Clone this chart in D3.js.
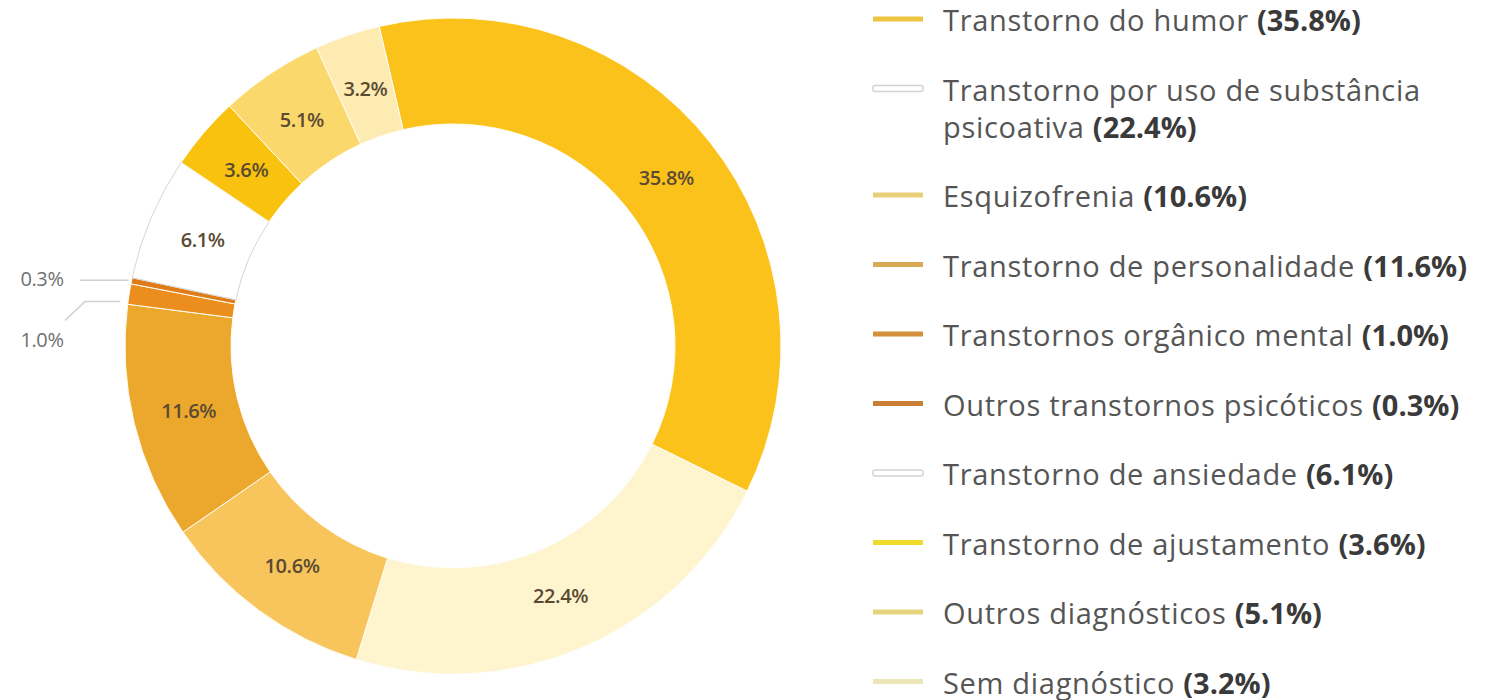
<!DOCTYPE html>
<html>
<head>
<meta charset="utf-8">
<script src="https://cdn.jsdelivr.net/npm/d3@7"></script>
<style>
  html, body { margin: 0; padding: 0; background: #fff; }
  svg { display: block; }
</style>
</head>
<body>
<svg id="chart"></svg>
<script>
const categories = [
  "Transtorno do humor",
  "Transtorno por uso de substância psicoativa",
  "Esquizofrenia",
  "Transtorno de personalidade",
  "Transtornos orgânico mental",
  "Outros transtornos psicóticos",
  "Transtorno de ansiedade",
  "Transtorno de ajustamento",
  "Outros diagnósticos",
  "Sem diagnóstico"
];
const values = [35.8, 22.4, 10.6, 11.6, 1.0, 0.3, 6.1, 3.6, 5.1, 3.2];
const sliceColors = ["#fcc21c", "#fef5cf", "#f7c55c", "#eca82c", "#ec8e1e", "#de7c1a",
                     "#ffffff", "#f9c20e", "#fbd86c", "#fdebb2"];
const legendColors = ["#ecc640", "#ffffff", "#e9cf78", "#d8aa55", "#d4903a", "#c98036",
                      "#ffffff", "#f0da2a", "#e5d47e", "#ebe6b6"];
// slices with their labels outside the ring
const outsideLabels = ["Transtornos orgânico mental", "Outros transtornos psicóticos"];

const W = 1486, H = 700;
const svg = d3.select("#chart").attr("width", W).attr("height", H);

const cx = 453, cy = 346;
const rOuter = 328, rInner = 222;
const start = -13 * Math.PI / 180;

const pie = d3.pie().sort(null).value(d => d)
    .startAngle(start).endAngle(start + 2 * Math.PI);
const arcs = pie(values);

const arc = d3.arc().innerRadius(rInner).outerRadius(rOuter);
const labelArc = d3.arc().innerRadius(rInner + 50).outerRadius(rInner + 50);
const edgeArc = d3.arc().innerRadius(rOuter + 3).outerRadius(rOuter + 3);

const g = svg.append("g").attr("transform", `translate(${cx},${cy})`);

g.selectAll(".slice")
  .data(arcs).enter().append("path")
  .attr("class", "slice")
  .attr("d", arc)
  .attr("fill", (d, i) => sliceColors[i])
  .attr("stroke", (d, i) => sliceColors[i] === "#ffffff" ? "#d6d6d6" : "#fffdf4")
  .attr("stroke-width", 1);

// labels inside the ring
g.selectAll(".vlabel")
  .data(arcs.filter((d, i) => !outsideLabels.includes(categories[i])))
  .enter().append("text")
  .attr("class", "vlabel")
  .attr("transform", d => `translate(${labelArc.centroid(d)})`)
  .attr("text-anchor", "middle")
  .attr("dominant-baseline", "central")
  .attr("font-family", "'Open Sans', sans-serif")
  .attr("font-size", 20)
  .attr("font-weight", 600)
  .attr("letter-spacing", -0.4)
  .attr("fill", "#5a4a32")
  .text(d => d.data.toFixed(1) + "%");

// small slices: leader lines to the left
const textX = 42 - cx;
outsideLabels.forEach((name, k) => {
  const d = arcs[categories.indexOf(name)];
  const [px, py] = edgeArc.centroid(d);
  let pts, ty;
  if (k === 1) {
    pts = [[px, py], [80 - cx, py]];
    ty = py - 2;
  } else {
    pts = [[px - 6, py + 8], [85 - cx, py + 8], [65 - cx, py + 27]];
    ty = py + 46;
  }
  g.append("polyline")
    .attr("points", pts.map(p => p.join(",")).join(" "))
    .attr("fill", "none")
    .attr("stroke", "#cfcfcf")
    .attr("stroke-width", 1.5);
  g.append("text")
    .attr("x", textX).attr("y", ty)
    .attr("text-anchor", "middle")
    .attr("dominant-baseline", "central")
    .attr("font-family", "'Open Sans', sans-serif")
    .attr("font-size", 20)
    .attr("letter-spacing", -0.4)
    .attr("fill", "#6f6f6f")
    .text(d.data.toFixed(1) + "%");
});

// legend
const legX = 873, legTextX = 943, legMaxW = 540;
const fontSize = 29, spacing = 0.7;
const rowStep = 69.5, lineH = 37;
const legend = svg.append("g").attr("class", "legend");
let y = 19;
categories.forEach((name, i) => {
  const row = legend.append("g");
  const t = row.append("text")
    .attr("x", legTextX).attr("y", y)
    .attr("dominant-baseline", "central")
    .attr("font-family", "'Open Sans', sans-serif")
    .attr("font-size", fontSize)
    .attr("letter-spacing", spacing)
    .attr("fill", "#555");
  // wrap by words, percentage stays bold at the end
  const words = name.split(" ");
  const pct = ` (${values[i].toFixed(1)}%)`;
  let lines = [[]];
  const probe = svg.append("text")
    .attr("font-family", "'Open Sans', sans-serif")
    .attr("font-size", fontSize).attr("letter-spacing", spacing);
  words.forEach((w, j) => {
    const cur = lines[lines.length - 1];
    const test = cur.concat([w]).join(" ") + (j === words.length - 1 ? pct : "");
    probe.text(test);
    if (cur.length && probe.node().getComputedTextLength() > legMaxW) lines.push([w]);
    else cur.push(w);
  });
  probe.remove();
  lines.forEach((ws, li) => {
    t.append("tspan").attr("x", legTextX).attr("dy", li === 0 ? 0 : lineH)
      .text(ws.join(" ") + (li === lines.length - 1 ? " " : ""));
    if (li === lines.length - 1) {
      t.append("tspan").attr("font-weight", 700).attr("fill", "#3a3a3a")
        .attr("letter-spacing", 0)
        .text(`(${values[i].toFixed(1)}%)`);
    }
  });
  const c = legendColors[i];
  if (c === "#ffffff") {
    row.append("rect")
      .attr("x", legX).attr("y", y - 3).attr("width", 50).attr("height", 6)
      .attr("rx", 2)
      .attr("fill", "#fff").attr("stroke", "#cfd3d6").attr("stroke-width", 1.5);
  } else {
    row.append("line")
      .attr("x1", legX).attr("x2", legX + 50).attr("y1", y).attr("y2", y)
      .attr("stroke", c).attr("stroke-width", 5);
  }
  y += rowStep + (lines.length - 1) * lineH;
});
</script>
</body>
</html>
